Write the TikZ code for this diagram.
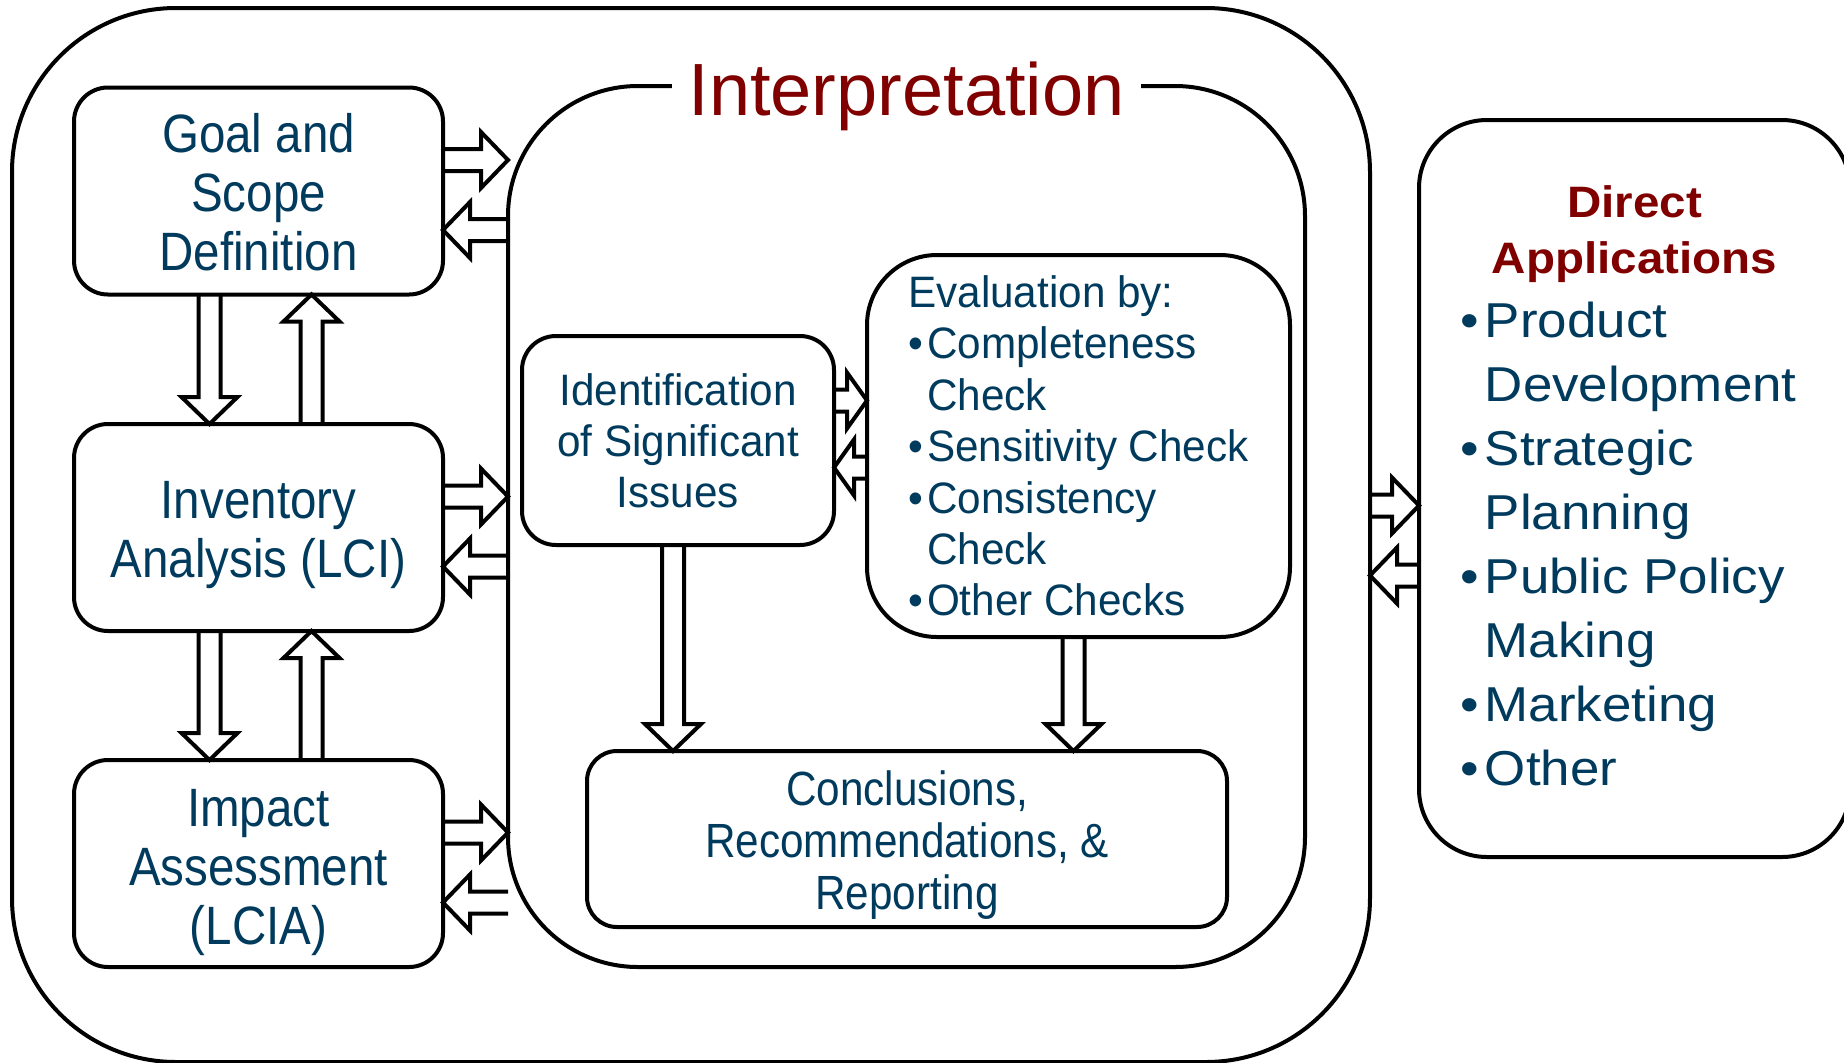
\documentclass[tikz,border=0pt]{standalone}
\usepackage{fontspec}
\setmainfont{Liberation Sans}
\newfontfamily\condfont[FakeStretch=0.88]{Liberation Sans}
\newfontfamily\midfont[FakeStretch=0.96]{Liberation Sans}
\newfontfamily\widefont[FakeStretch=1.08]{Liberation Sans}
\usetikzlibrary{calc}
\definecolor{lcablue}{RGB}{0,58,92}
\definecolor{lcared}{RGB}{128,0,0}

% hollow block arrow from #2 to #3, #1 = head length
\newcommand{\blk}[3][13.5pt]{%
  \draw[blkarrow] let \p1=(#2), \p2=(#3), \n1={atan2(\y2-\y1,\x2-\x1)} in
    ($(\p1)+(\n1+90:5.5pt)$) -- ($(\p2)+(\n1+180:#1)+(\n1+90:5.5pt)$)
    -- ($(\p2)+(\n1+180:#1)+(\n1+90:14pt)$) -- (\p2)
    -- ($(\p2)+(\n1+180:#1)+(\n1-90:14pt)$)
    -- ($(\p2)+(\n1+180:#1)+(\n1-90:5.5pt)$) -- ($(\p1)+(\n1-90:5.5pt)$);
}
% taller first line, pushes the text block down a little
\newcommand{\topstrut}[1]{\rule{0pt}{#1}}

\begin{document}
\begin{tikzpicture}[x=0.5pt, y=-0.5pt]
      \tikzstyle{box}=[draw, line width=2pt, outer sep=0pt, inner sep=0pt, text=lcablue, align=center]
      \tikzstyle{stage}=[box, rounded corners=17pt, minimum width=184.5pt, minimum height=103.5pt, font=\condfont\fontsize{27}{29.5}\selectfont]
      \tikzstyle{blkarrow}=[line width=2pt, line join=miter]
      \useasboundingbox (0,0) rectangle (1844,1062);

      \node[box, rounded corners=82pt, minimum width=679pt, minimum height=527pt] (outer) at (691,535) {};
      \node[box, rounded corners=65pt, minimum width=398.5pt, minimum height=440.5pt] (interp) at (906.5,526.5) {};
      \node[fill=white, inner xsep=8pt, inner ysep=2pt, anchor=base, text=lcared, font=\fontsize{37}{40}\selectfont] (title) at ($(interp.north)+(0,29)$) {Interpretation};

      \node[stage] (goal) at (258.5,191) {\topstrut{21pt}Goal and\\Scope\\Definition};
      \node[stage] (inv) at (258.5,527.5) {\topstrut{26.5pt}Inventory\\Analysis (LCI)};
      \node[stage] (imp) at (258.5,863.5) {\topstrut{27.5pt}Impact\\Assessment\\(LCIA)};

      \node[box, rounded corners=17pt, minimum width=156pt, minimum height=104.5pt, font=\midfont\fontsize{22}{25.5}\selectfont] (ident) at (678,440.5) {Identification\\of Significant\\Issues};
      \node[box, rounded corners=35pt, minimum width=211.5pt, minimum height=191pt, align=left, font=\midfont\fontsize{22}{25.7}\selectfont] (eval) at (1078.5,446) {Evaluation by:\\
        \textbullet\hspace{2pt}Completeness\\
        \phantom{\textbullet\hspace{2pt}}Check\\
        \textbullet\hspace{2pt}Sensitivity Check\\
        \textbullet\hspace{2pt}Consistency\\
        \phantom{\textbullet\hspace{2pt}}Check\\
        \textbullet\hspace{2pt}Other Checks};
      \node[box, rounded corners=15pt, minimum width=320pt, minimum height=88pt, font=\condfont\fontsize{24}{26}\selectfont] (concl) at (907,839) {\topstrut{23.5pt}Conclusions,\\Recommendations, \&\\Reporting};

      \node[box, rounded corners=34pt, minimum width=215.5pt, minimum height=368.5pt, font=\widefont\fontsize{24.5}{32}\selectfont] (direct) at (1634.5,488.5) {%
        \begin{tabular}{@{\hspace{-6pt}}l@{}}
          \multicolumn{1}{@{}c@{}}{\bfseries\fontsize{22}{28}\selectfont\color{lcared}Direct}\\[-4pt]
          \multicolumn{1}{@{}c@{}}{\bfseries\fontsize{22}{28}\selectfont\color{lcared}Applications}\\
          \textbullet\hspace{3pt}Product\\
          \phantom{\textbullet\hspace{3pt}}Development\\
          \textbullet\hspace{3pt}Strategic\\
          \phantom{\textbullet\hspace{3pt}}Planning\\
          \textbullet\hspace{3pt}Public Policy\\
          \phantom{\textbullet\hspace{3pt}}Making\\
          \textbullet\hspace{3pt}Marketing\\
          \textbullet\hspace{3pt}Other
        \end{tabular}};

      \foreach \b in {goal, inv, imp} {%
        \coordinate (out\b) at ($(\b.east)+(0,-31)$);
        \coordinate (in\b) at ($(\b.east)+(0,39)$);
        \blk{out\b}{out\b -| interp.west}
        \blk{in\b -| interp.west}{in\b}
      }
      \foreach \src/\dst in {goal/inv, inv/imp} {%
        \coordinate (down\src) at ($(\src.south)+(-49,0)$);
        \coordinate (up\src) at ($(\src.south)+(53,0)$);
        \blk{down\src}{down\src |- \dst.north}
        \blk{up\src |- \dst.north}{up\src}
      }
      \coordinate (outident) at ($(ident.east)+(0,-40)$);
      \coordinate (inident) at ($(ident.east)+(0,27)$);
      \blk[10pt]{outident}{outident -| eval.west}
      \blk[10pt]{inident -| eval.west}{inident}
      \foreach \src in {ident, eval} {%
        \coordinate (to\src) at ($(\src.south)+(-5,0)$);
        \blk{to\src}{to\src |- concl.north}
      }
      \coordinate (outinterp) at ($(outer.east)+(0,-29.5)$);
      \coordinate (ininterp) at ($(outer.east)+(0,40.5)$);
      \blk{outinterp}{outinterp -| direct.west}
      \blk{ininterp -| direct.west}{ininterp}
\end{tikzpicture}
\end{document}
